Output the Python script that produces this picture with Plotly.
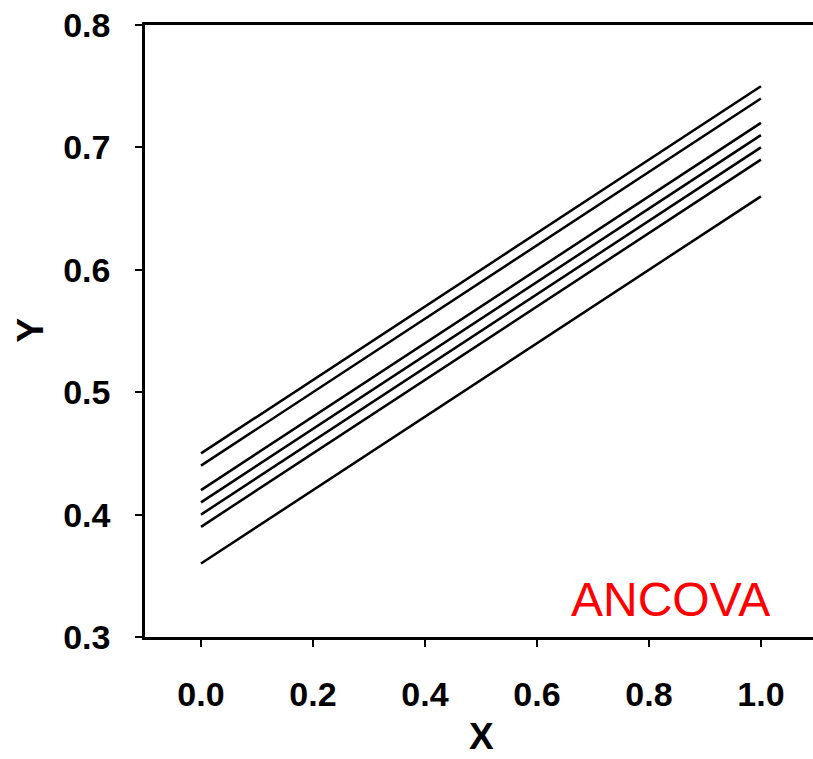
import plotly.graph_objects as go

x_vals = [0.0, 1.0]
intercepts = [0.45, 0.44, 0.42, 0.41, 0.40, 0.39, 0.36]
endpoints = [0.75, 0.74, 0.72, 0.71, 0.70, 0.69, 0.66]
x_ticks = [0.0, 0.2, 0.4, 0.6, 0.8, 1.0]
x_tick_labels = ["0.0", "0.2", "0.4", "0.6", "0.8", "1.0"]
y_ticks = [0.3, 0.4, 0.5, 0.6, 0.7, 0.8]
y_tick_labels = ["0.3", "0.4", "0.5", "0.6", "0.7", "0.8"]

W, H = 813, 759
L, R, T, B = 145, 0, 25, 122
pw, ph = W - L - R, H - T - B

fig = go.Figure()
for a, b in zip(intercepts, endpoints):
    fig.add_trace(go.Scatter(x=x_vals, y=[a, b], mode="lines",
                             line=dict(color="black", width=2.5),
                             showlegend=False, hoverinfo="skip"))

font = dict(family="Liberation Sans, Arial", size=34, color="black")
tfont = dict(family="Liberation Sans, Arial", size=37, color="black")
fig.update_layout(
    width=W, height=H,
    margin=dict(l=L, r=R, t=T, b=B),
    plot_bgcolor="white", paper_bgcolor="white",
    xaxis=dict(range=[-0.1, 1.093], tickvals=x_ticks, ticktext=[f"<b>{t}</b>" for t in x_tick_labels],
               showline=True, linecolor="black", linewidth=2.5, mirror=True,
               ticks="outside", ticklen=7, tickwidth=2.2, tickcolor="black",
               showgrid=False, zeroline=False, tickfont=font, ticklabelstandoff=18),
    yaxis=dict(range=[0.3, 0.8], tickvals=y_ticks, ticktext=[f"<b>{t}</b>" for t in y_tick_labels],
               showline=True, linecolor="black", linewidth=2.5,
               ticks="outside", ticklen=7, tickwidth=2.2, tickcolor="black",
               showgrid=False, zeroline=False, tickfont=font, ticklabelstandoff=18),
)


def px_to_paper(px, py):
    return (px - L) / pw, (H - B - py) / ph


ax, ay = px_to_paper(670, 599)
fig.add_annotation(x=ax, y=ay, xref="paper", yref="paper", text="ANCOVA",
                   xanchor="center", yanchor="middle", showarrow=False,
                   font=dict(family="Liberation Sans, Arial", size=48, color="red"))
xx, xy = px_to_paper(481, 758)
fig.add_annotation(x=xx, y=xy, xref="paper", yref="paper", text="<b>X</b>",
                   xanchor="center", yanchor="bottom", showarrow=False, borderpad=0, font=tfont)
yx, yy = px_to_paper(29.5, 330)
fig.add_annotation(x=yx, y=yy, xref="paper", yref="paper", text="<b>Y</b>", textangle=-90,
                   xanchor="center", yanchor="middle", showarrow=False, font=tfont)
fig.write_html("out.html", config={"displayModeBar": False},
               post_script="document.body.style.margin='0';document.body.style.overflow='hidden';")
